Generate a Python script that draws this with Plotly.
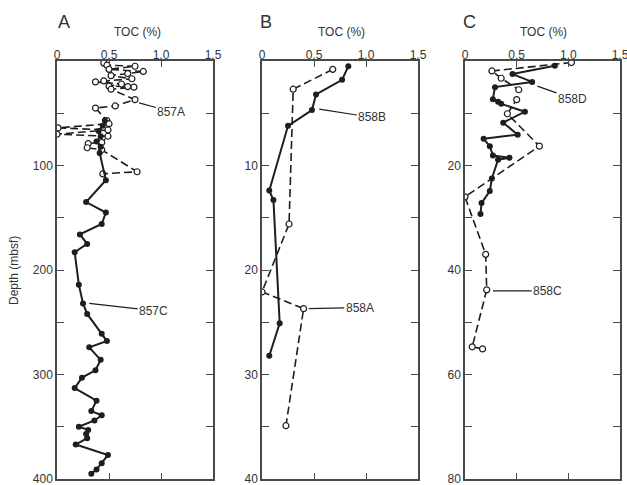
import plotly.graph_objects as go

# ---------------- Panel A (Site 857) ----------------
a857A_toc = [0.45, 0.48, 0.75, 0.50, 0.83, 0.68, 0.52, 0.72, 0.45, 0.37, 0.62, 0.50, 0.68, 0.74,
             0.52, 0.75, 0.56, 0.37, 0.48, 0.50, 0.01, 0.49, 0.00, 0.49, 0.43, 0.30, 0.29, 0.43,
             0.77, 0.44]
a857A_depth = [2, 4, 5, 8, 10, 12, 14, 17, 19, 20, 22, 24, 24.5, 25,
               27, 37, 43, 45, 57, 60, 64, 66, 70, 72, 78, 79, 83, 85,
               106, 108]

a857C_toc = [0.46, 0.44, 0.40, 0.42, 0.38, 0.42, 0.41, 0.47, 0.28, 0.47, 0.43, 0.22, 0.29, 0.17,
             0.21, 0.25, 0.29, 0.43, 0.48, 0.31, 0.42, 0.37, 0.24, 0.17, 0.38, 0.33, 0.43, 0.36,
             0.21, 0.30, 0.28, 0.29, 0.18, 0.49, 0.43, 0.38, 0.33]
a857C_depth = [57, 62, 67, 72, 77, 82, 88, 114, 135, 145, 156, 166, 175, 183,
               214, 232, 242, 261, 268, 274, 286, 296, 303, 313, 325, 335, 339, 344,
               350, 353, 357, 361, 367, 377, 385, 391, 395]

# ---------------- Panel B (Site 858 A/B) ----------------
b858B_toc = [0.83, 0.77, 0.52, 0.48, 0.25, 0.07, 0.11, 0.17, 0.07]
b858B_depth = [0.5, 1.8, 3.2, 4.7, 6.2, 12.4, 13.3, 25.1, 28.2]

b858A_toc = [0.68, 0.30, 0.26, 0.00, 0.40, 0.23]
b858A_depth = [0.8, 2.7, 15.6, 22.1, 23.7, 34.9]

# ---------------- Panel C (Site 858 C/D) ----------------
c858D_toc = [0.87, 0.46, 0.65, 0.29, 0.27, 0.32, 0.35, 0.58, 0.37, 0.51, 0.18, 0.24, 0.27, 0.43,
             0.32, 0.26, 0.24, 0.16, 0.15]
c858D_depth = [0.9, 2.5, 4.0, 5.0, 7.3, 7.8, 8.2, 9.7, 11.8, 14.1, 14.9, 16.3, 18.1, 18.5,
               18.9, 22.5, 24.9, 27.2, 29.3]

c858C_toc = [1.03, 0.26, 0.35, 0.52, 0.50, 0.41, 0.72, 0.00, 0.20, 0.21, 0.07, 0.17]
c858C_depth = [0.3, 1.9, 3.3, 5.5, 7.4, 10.1, 16.3, 26.0, 37.0, 43.8, 54.7, 55.1]

x_tickvals = [0, 0.5, 1.0, 1.5]
x_ticktext = ["0", "0.5", "1.0", "1.5"]

INK = "#1e1e1e"
AXC = "#4a4a4a"
TXT = "#333333"
FONT = "Liberation Sans, Arial, sans-serif"

fig = go.Figure()


def solid(x, y, xa, ya):
    fig.add_trace(go.Scatter(x=x, y=y, xaxis=xa, yaxis=ya, mode="lines+markers",
                             line=dict(color=INK, width=2),
                             marker=dict(size=6, color=INK), showlegend=False))


def dashed(x, y, xa, ya):
    fig.add_trace(go.Scatter(x=x, y=y, xaxis=xa, yaxis=ya, mode="lines+markers",
                             line=dict(color=INK, width=1.6, dash="8px,4px"),
                             marker=dict(size=6, color="white", line=dict(color=INK, width=1.2)),
                             showlegend=False))


dashed(a857A_toc, a857A_depth, "x", "y")
solid(a857C_toc, a857C_depth, "x", "y")
dashed(b858A_toc, b858A_depth, "x2", "y2")
solid(b858B_toc, b858B_depth, "x2", "y2")
dashed(c858C_toc, c858C_depth, "x3", "y3")
solid(c858D_toc, c858D_depth, "x3", "y3")

W, H = 627, 485
ydom = [1 - 479 / H, 1 - 61 / H]
xdoms = [[57 / W, 213 / W], [262 / W, 418 / W], [465 / W, 620 / W]]
yranges = [[400, 0], [40, 0], [80, 0]]
ysteps = [(50, 100), (5, 10), (10, 20)]


def xaxis(dom, anchor):
    return dict(domain=dom, range=[0, 1.5], side="top", anchor=anchor, automargin=False,
                tickvals=x_tickvals, ticktext=x_ticktext, ticks="inside", ticklen=6,
                tickcolor=AXC, tickwidth=1.3, showline=True, linecolor=AXC, linewidth=1.5,
                mirror="ticks", showgrid=False, zeroline=False, ticklabelstandoff=-5,
                ticklabeloverflow="allow",
                tickfont=dict(family=FONT, size=12, color=TXT))


def yaxis(rng, step, anchor):
    minor, major = step
    vals = list(range(0, rng[0] + 1, minor))
    text = [str(v) if (v % major == 0 and v != 0) else "" for v in vals]
    return dict(domain=ydom, range=rng, anchor=anchor, automargin=False,
                tickvals=vals, ticktext=text,
                ticks="inside", ticklen=7, tickcolor=AXC, tickwidth=1.3,
                showline=True, linecolor=AXC, linewidth=1.5, mirror="ticks",
                showgrid=False, zeroline=False, ticklabeloverflow="allow",
                tickfont=dict(family=FONT, size=12, color=TXT))


fig.update_layout(
    width=W, height=H, margin=dict(l=0, r=0, t=0, b=0, autoexpand=False),
    paper_bgcolor="white", plot_bgcolor="white",
    xaxis=xaxis(xdoms[0], "y"), yaxis=yaxis(yranges[0], ysteps[0], "x"),
    xaxis2=xaxis(xdoms[1], "y2"), yaxis2=yaxis(yranges[1], ysteps[1], "x2"),
    xaxis3=xaxis(xdoms[2], "y3"), yaxis3=yaxis(yranges[2], ysteps[2], "x3"),
)

ann = []
# panel letters and TOC titles
for letter, px, tx in [("A", 64, 137), ("B", 266, 341), ("C", 469, 543)]:
    ann.append(dict(text=letter, x=px / W, y=1 - 22 / H, xref="paper", yref="paper",
                    xanchor="center", yanchor="middle",
                    showarrow=False, font=dict(family=FONT, size=18, color=TXT)))
    ann.append(dict(text="TOC (%)", x=tx / W, y=1 - 32 / H, xref="paper", yref="paper",
                    xanchor="center", yanchor="middle",
                    showarrow=False, font=dict(family=FONT, size=12, color=TXT)))
ann.append(dict(text="Depth (mbsf)", x=14 / W, y=1 - 271 / H, xref="paper", yref="paper",
                xanchor="center", yanchor="middle",
                textangle=-90, showarrow=False, font=dict(family=FONT, size=12, color=TXT)))

# hole labels with leader lines
for name, xa, ya, tip, txt in [
    ("857A", "x", "y", (0.79, 40), (1.10, 48.6)),
    ("857C", "x", "y", (0.31, 232), (0.93, 239)),
    ("858B", "x2", "y2", (0.55, 4.6), (1.06, 5.4)),
    ("858A", "x2", "y2", (0.45, 23.7), (0.94, 23.6)),
    ("858D", "x3", "y3", (0.70, 4.8), (1.04, 7.2)),
    ("858C", "x3", "y3", (0.27, 44.0), (0.80, 44.0)),
]:
    ann.append(dict(text=name, x=tip[0], y=tip[1], xref=xa, yref=ya,
                    ax=txt[0], ay=txt[1], axref=xa, ayref=ya,
                    showarrow=True, arrowhead=0, arrowwidth=1.2, arrowcolor=INK,
                    font=dict(family=FONT, size=12, color=TXT)))
fig.update_layout(annotations=ann)

fig.write_html("out.html")
